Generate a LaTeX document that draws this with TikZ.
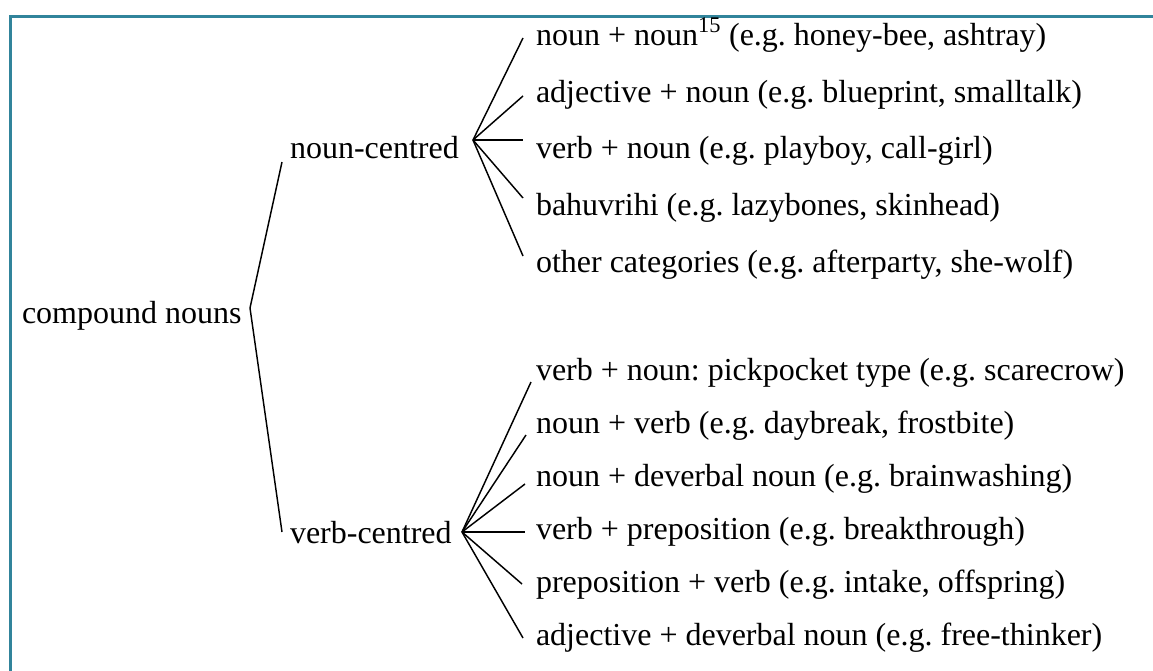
\documentclass[tikz,border=0pt]{standalone}
\usepackage{fontspec}
\setmainfont{Liberation Serif}
\definecolor{frameteal}{RGB}{49,132,155}
\begin{document}
\frenchspacing
\begin{tikzpicture}[x=0.75pt,y=-0.75pt,
  lbl/.style={anchor=base west,inner sep=0pt,outer sep=0pt,font=\fontsize{24}{28}\selectfont},
  branch/.style={draw=black,line width=1.1pt},
  framerule/.style={draw=frameteal,line width=1.7pt}]
\useasboundingbox (0,0) rectangle (1153,671);
% frame along the top and left edges
\draw[framerule] (1153,16.5) -- (10.5,16.5) -- (10.5,671);

% labels
\node[lbl] (root) at (22,323) {compound nouns};
\node[lbl] (nc) at (290,158) {noun-centred};
\node[lbl] (vc) at (290,543) {verb-centred};

\node[lbl] (n1) at (536,45)  {noun + noun\textsuperscript{15} (e.g. honey-bee, ashtray)};
\node[lbl] (n2) at (536,102) {adjective + noun (e.g. blueprint, smalltalk)};
\node[lbl] (n3) at (536,158) {verb + noun (e.g. playboy, call-girl)};
\node[lbl] (n4) at (536,215) {bahuvrihi (e.g. lazybones, skinhead)};
\node[lbl] (n5) at (536,272) {other categories (e.g. afterparty, she-wolf)};

\node[lbl] (v1) at (536,380) {verb + noun: pickpocket type (e.g. scarecrow)};
\node[lbl] (v2) at (536,433) {noun + verb (e.g. daybreak, frostbite)};
\node[lbl] (v3) at (536,486) {noun + deverbal noun (e.g. brainwashing)};
\node[lbl] (v4) at (536,539) {verb + preposition (e.g. breakthrough)};
\node[lbl] (v5) at (536,592) {preposition + verb (e.g. intake, offspring)};
\node[lbl] (v6) at (536,645) {adjective + deverbal noun (e.g. free-thinker)};

% branching points and line ends
\coordinate (rootfork) at (250,308);
\coordinate (ncin) at (282,162);
\coordinate (vcin) at (282,532);
\coordinate (ncfork) at (473,140);
\coordinate (vcfork) at (462,532);

\coordinate (n1in) at (523,38);
\coordinate (n2in) at (523,96);
\coordinate (n3in) at (523,140);
\coordinate (n4in) at (523,198);
\coordinate (n5in) at (523,256);

\coordinate (v1in) at (531,382);
\coordinate (v2in) at (526,435);
\coordinate (v3in) at (525,484);
\coordinate (v4in) at (525,532);
\coordinate (v5in) at (522,584);
\coordinate (v6in) at (523,638);

% connectors
\draw[branch] (ncin) -- (rootfork) -- (vcin);
\foreach \k in {1,...,5} \draw[branch] (ncfork) -- (n\k in);
\foreach \k in {1,...,6} \draw[branch] (vcfork) -- (v\k in);
\end{tikzpicture}
\end{document}
